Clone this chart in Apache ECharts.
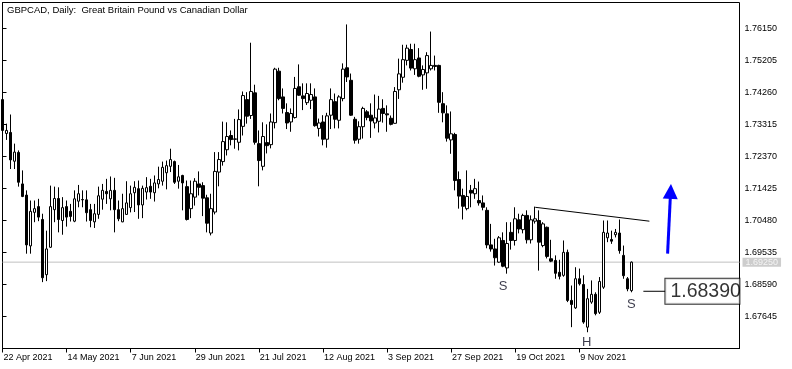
<!DOCTYPE html>
<html><head><meta charset="utf-8">
<script src="https://cdn.jsdelivr.net/npm/echarts@6/dist/echarts.min.js"></script>
<style>html,body{margin:0;padding:0;background:#fff}#c{width:792px;height:369px}</style>
</head><body><div id="c"></div>
<script>
const chartTitle = 'GBPCAD, Daily:  Great Britain Pound vs Canadian Dollar';
const slotCount = 185;
const extraSessions = ['31 Oct 2021'];
const xTickLabels = ['22 Apr 2021','14 May 2021','7 Jun 2021','29 Jun 2021','21 Jul 2021','12 Aug 2021','3 Sep 2021','27 Sep 2021','19 Oct 2021','9 Nov 2021'];
const yTicks = [1.67645,1.68590,1.69535,1.70480,1.71425,1.72370,1.73315,1.74260,1.75205,1.76150];

const open = [1.7405,1.7305,1.7308,1.7223,1.7249,1.7156,1.7123,1.6973,1.7072,1.7089,
1.7051,1.6888,1.6969,1.7080,1.7113,1.7048,1.7089,1.7075,1.7046,1.7105,
1.7110,1.7109,1.7080,1.7044,1.7066,1.7111,1.7134,1.7112,1.7137,1.7080,
1.7044,1.7066,1.7086,1.7130,1.7142,1.7094,1.7132,1.7149,1.7130,1.7156,
1.7164,1.7189,1.7208,1.7222,1.7164,1.7181,1.7148,1.7083,1.7117,1.7156,
1.7151,1.7115,1.7011,1.7073,1.7191,1.7222,1.7257,1.7299,1.7289,1.7279,
1.7326,1.7405,1.7358,1.7425,1.7275,1.7208,1.7278,1.7272,1.7337,1.7489,
1.7413,1.7367,1.7339,1.7352,1.7443,1.7416,1.7396,1.7403,1.7413,1.7320,
1.7339,1.7288,1.7359,1.7399,1.7344,1.7408,1.7499,1.7462,1.7347,1.7288,
1.7325,1.7369,1.7359,1.7336,1.7341,1.7379,1.7363,1.7350,1.7335,1.7434,
1.7471,1.7521,1.7553,1.7496,1.7528,1.7478,1.7484,1.7496,1.7506,1.7506,
1.7393,1.7363,1.7286,1.7302,1.7169,1.7122,1.7083,1.7137,1.7127,1.7107,
1.7100,1.7078,1.6976,1.6964,1.6925,1.6989,1.6908,1.7013,1.6989,1.7050,
1.7021,1.7063,1.6991,1.7046,1.7048,1.6974,1.7028,1.6935,1.6930,1.6895,
1.6886,1.6954,1.6812,1.6790,1.6876,1.6859,1.6733,1.6807,1.6830,1.6777,
1.6851,1.6997,1.6992,1.7006,1.7011,1.6945,1.6876,1.6841];
const close = [1.7314,1.7314,1.7227,1.7250,1.7161,1.7119,1.6976,1.7075,1.7083,1.7058,
1.6879,1.6964,1.7089,1.7113,1.7051,1.7086,1.7058,1.7060,1.7112,1.7127,
1.7109,1.7071,1.7048,1.7068,1.7121,1.7137,1.7127,1.7137,1.7080,1.7053,
1.7083,1.7100,1.7127,1.7146,1.7094,1.7143,1.7145,1.7132,1.7159,1.7169,
1.7205,1.7210,1.7228,1.7161,1.7177,1.7159,1.7051,1.7127,1.7164,1.7146,
1.7114,1.7040,1.7083,1.7193,1.7228,1.7281,1.7296,1.7287,1.7288,1.7346,
1.7417,1.7356,1.7429,1.7279,1.7225,1.7296,1.7269,1.7339,1.7495,1.7408,
1.7379,1.7336,1.7364,1.7438,1.7418,1.7408,1.7423,1.7420,1.7328,1.7336,
1.7288,1.7357,1.7405,1.7347,1.7413,1.7495,1.7472,1.7359,1.7285,1.7325,
1.7379,1.7352,1.7342,1.7351,1.7377,1.7364,1.7360,1.7332,1.7429,1.7481,
1.7523,1.7557,1.7498,1.7523,1.7474,1.7494,1.7535,1.7506,1.7503,1.7397,
1.7366,1.7291,1.7304,1.7166,1.7120,1.7090,1.7119,1.7129,1.7142,1.7100,
1.7087,1.6976,1.6964,1.6938,1.6997,1.6913,1.6980,1.6989,1.7053,1.7023,
1.7063,1.6991,1.7050,1.7053,1.6984,1.7038,1.6942,1.6928,1.6892,1.6883,
1.6954,1.6812,1.6800,1.6876,1.6861,1.6748,1.6817,1.6830,1.6773,1.6868,
1.7013,1.7011,1.6987,1.7013,1.6959,1.6885,1.6846,1.6925];
const low = [1.7305,1.7286,1.7200,1.7200,1.7148,1.7117,1.6950,1.6950,1.7043,1.7046,
1.6866,1.6869,1.6967,1.7043,1.7013,1.7006,1.7030,1.7045,1.7043,1.7087,
1.7087,1.7045,1.7028,1.7026,1.7053,1.7080,1.7097,1.7078,1.7013,1.7046,
1.7043,1.7065,1.7072,1.7073,1.7053,1.7055,1.7110,1.7112,1.7104,1.7143,
1.7151,1.7140,1.7191,1.7156,1.7142,1.7078,1.7048,1.7055,1.7092,1.7122,
1.7061,1.7013,1.7004,1.7066,1.7149,1.7210,1.7240,1.7270,1.7260,1.7255,
1.7299,1.7334,1.7348,1.7272,1.7149,1.7196,1.7246,1.7261,1.7320,1.7403,
1.7364,1.7318,1.7310,1.7349,1.7416,1.7374,1.7389,1.7377,1.7325,1.7296,
1.7270,1.7263,1.7318,1.7320,1.7320,1.7400,1.7457,1.7357,1.7275,1.7275,
1.7290,1.7344,1.7292,1.7320,1.7308,1.7337,1.7310,1.7329,1.7334,1.7407,
1.7455,1.7506,1.7491,1.7478,1.7471,1.7434,1.7437,1.7491,1.7491,1.7366,
1.7338,1.7281,1.7245,1.7137,1.7083,1.7051,1.7078,1.7087,1.7112,1.7092,
1.7078,1.6966,1.6956,1.6915,1.6923,1.6910,1.6891,1.6962,1.6974,1.7010,
1.7010,1.6980,1.6980,1.7039,1.6900,1.6969,1.6936,1.6925,1.6876,1.6874,
1.6882,1.6807,1.6733,1.6787,1.6856,1.6743,1.6718,1.6802,1.6768,1.6772,
1.6846,1.6984,1.6979,1.6998,1.6950,1.6876,1.6839,1.6836];
const high = [1.7411,1.7334,1.7361,1.7275,1.7255,1.7196,1.7137,1.7107,1.7107,1.7112,
1.7068,1.7018,1.7151,1.7148,1.7146,1.7117,1.7107,1.7097,1.7137,1.7153,
1.7137,1.7137,1.7097,1.7097,1.7148,1.7156,1.7171,1.7178,1.7174,1.7107,
1.7127,1.7164,1.7151,1.7164,1.7166,1.7151,1.7176,1.7171,1.7181,1.7207,
1.7222,1.7225,1.7260,1.7225,1.7212,1.7183,1.7166,1.7166,1.7173,1.7193,
1.7161,1.7124,1.7127,1.7250,1.7250,1.7340,1.7338,1.7314,1.7348,1.7376,
1.7429,1.7427,1.7573,1.7449,1.7314,1.7338,1.7332,1.7364,1.7499,1.7499,
1.7438,1.7394,1.7379,1.7472,1.7509,1.7453,1.7453,1.7453,1.7438,1.7349,
1.7359,1.7366,1.7438,1.7423,1.7418,1.7512,1.7627,1.7482,1.7354,1.7341,
1.7384,1.7374,1.7394,1.7420,1.7416,1.7406,1.7388,1.7358,1.7442,1.7526,
1.7567,1.7567,1.7570,1.7570,1.7557,1.7506,1.7545,1.7606,1.7535,1.7508,
1.7427,1.7388,1.7370,1.7307,1.7193,1.7142,1.7196,1.7153,1.7171,1.7163,
1.7122,1.7087,1.7038,1.6994,1.7002,1.7013,1.7043,1.7043,1.7087,1.7068,
1.7068,1.7078,1.7063,1.7089,1.7078,1.7043,1.7030,1.6991,1.6945,1.6932,
1.6989,1.6962,1.6856,1.6910,1.6906,1.6886,1.6846,1.6871,1.6836,1.6881,
1.7048,1.7048,1.7018,1.7023,1.7051,1.6974,1.6881,1.6927];

const lastPrice = 1.69250;
const tagPrice = 1.68390;
const patternLabels = [['S',125,1.6853],['H',145.85,1.6689],['S',157,1.6800]];
const neckline = [[133,1.7087],[161.5,1.7046]];
const tagLine = [[160,1.6839],[165.5,1.6839]];
const tagPoint = [165.5,1.6839];
const arrowLine = [[166.05,1.6950],[166.8,1.7134]];

const MONTHS=['Jan','Feb','Mar','Apr','May','Jun','Jul','Aug','Sep','Oct','Nov','Dec'];
function fmt(d){return d.getUTCDate()+' '+MONTHS[d.getUTCMonth()]+' '+d.getUTCFullYear();}
const categories=[];
let dt=new Date(Date.UTC(2021,3,22));
while(categories.length<slotCount){
  const s=fmt(dt), wd=dt.getUTCDay();
  if((wd!==0&&wd!==6)||extraSessions.includes(s)) categories.push(s);
  dt=new Date(dt.getTime()+86400000);
}
const FONT='"Liberation Sans", Arial, sans-serif';
const candles=open.map((o,i)=>[o,close[i],low[i],high[i]]);
const chart=echarts.init(document.getElementById('c'),null,{renderer:'canvas'});
chart.setOption({
  animation:false,
  backgroundColor:'#fff',
  title:{text:chartTitle,left:7,top:5,padding:0,textStyle:{fontSize:9.5,fontWeight:'normal',color:'#000',fontFamily:FONT}},
  grid:{left:2.5,right:52.5,top:2.5,bottom:20.5,show:true,borderColor:'#000',borderWidth:1,backgroundColor:'#fff'},
  xAxis:[{
    type:'category',data:categories,boundaryGap:false,
    axisLine:{lineStyle:{color:'#000',width:1}},
    axisTick:{length:4,interval:(i,v)=>xTickLabels.includes(v),lineStyle:{color:'#000'}},
    axisLabel:{interval:(i,v)=>xTickLabels.includes(v),align:'left',margin:5,fontSize:9,color:'#000',fontFamily:FONT,padding:[0,0,0,1]},
    splitLine:{show:false}
  },{type:'value',min:0,max:slotCount-1,show:false}],
  yAxis:{
    type:'value',position:'right',min:1.667,max:1.769178,
    splitLine:{show:false},
    axisLine:{show:true,lineStyle:{color:'#000'}},
    axisTick:{show:true,length:4,customValues:yTicks,lineStyle:{color:'#000'}},
    axisLabel:{customValues:yTicks,formatter:v=>v.toFixed(5),margin:5,fontSize:9,color:'#000',fontFamily:FONT}
  },
  series:[
    {type:'line',xAxisIndex:1,data:[[0,lastPrice],[slotCount-1,lastPrice]],symbol:'none',silent:true,z:1,
     lineStyle:{color:'#c0c0c0',width:1}},
    {type:'scatter',xAxisIndex:1,silent:true,symbolSize:0,z:1,
     data:[{name:lastPrice.toFixed(5),value:[slotCount-1,lastPrice]}],
     label:{show:true,position:'right',distance:3,formatter:'{b}',backgroundColor:'#c0c0c0',color:'#fff',padding:[0,3],lineHeight:9,fontSize:9,fontFamily:FONT}},
    {type:'candlestick',data:candles,barWidth:3,clip:true,silent:true,z:2,
     itemStyle:{color:'#fff',color0:'#000',borderColor:'#000',borderColor0:'#000',borderWidth:1}},
    {type:'line',xAxisIndex:1,data:neckline,symbol:'none',silent:true,z:3,lineStyle:{color:'#000',width:1}},
    {type:'line',xAxisIndex:1,data:tagLine,symbol:'none',silent:true,z:3,lineStyle:{color:'#000',width:1}},
    {type:'scatter',xAxisIndex:1,silent:true,symbolSize:0,z:3,
     data:patternLabels.map(p=>({name:p[0],value:[p[1],p[2]]})),
     label:{show:true,position:'inside',formatter:'{b}',fontSize:13,color:'#0a0a1e',fontFamily:FONT}},
    {type:'scatter',xAxisIndex:1,silent:true,symbolSize:0,z:3,
     data:[{name:tagPrice.toFixed(5),value:tagPoint}],
     label:{show:true,position:'right',distance:0,formatter:'{b}',fontSize:19.5,color:'#000',fontFamily:FONT,
       backgroundColor:'#fff',borderColor:'#000',borderWidth:1,padding:[3,1,2,5],width:68,overflow:'none'},
     markLine:{silent:true,animation:false,symbol:['none','triangle'],symbolSize:[15,15],
       lineStyle:{color:'#0000ff',width:3,type:'solid'},label:{show:false},
       data:[[{coord:arrowLine[0]},{coord:arrowLine[1]}]]}}
  ]
});
</script></body></html>
